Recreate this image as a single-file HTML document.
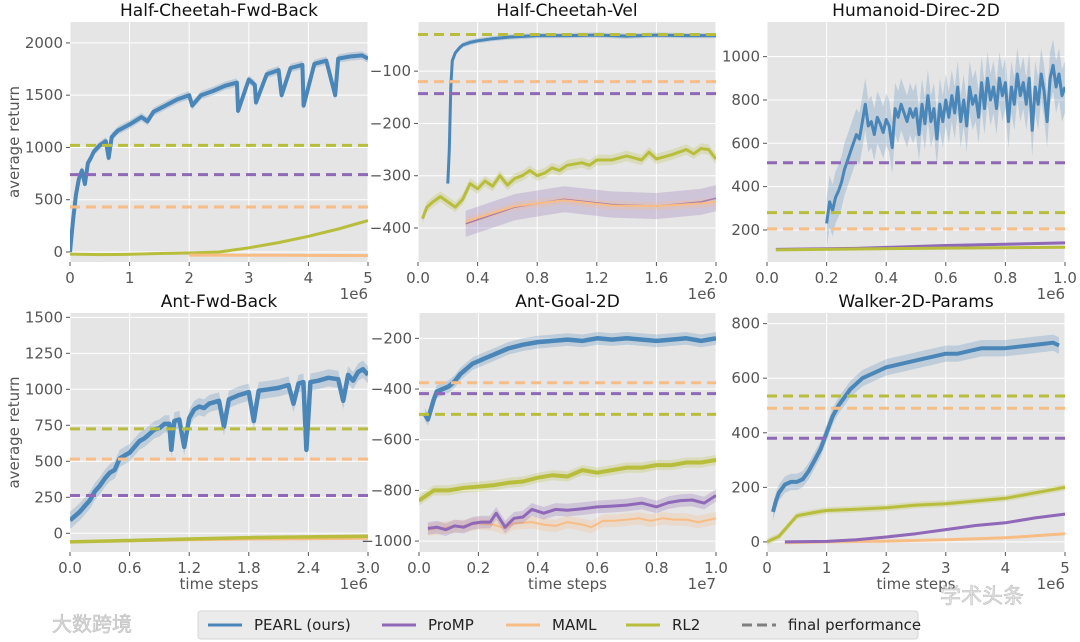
<!DOCTYPE html>
<html><head><meta charset="utf-8">
<style>
html,body{margin:0;padding:0;background:#fff;}
svg{display:block;font-family:"DejaVu Sans","Liberation Sans",sans-serif;}
</style></head>
<body>
<svg id="chart" width="1080" height="642" viewBox="0 0 1080 642" xmlns="http://www.w3.org/2000/svg"></svg>
<script>
// ---------- Panel 1: Half-Cheetah-Fwd-Back ----------
const p1PearlX = [0,0.05,0.1,0.15,0.2,0.25,0.3,0.35,0.4,0.5,0.6,0.65,0.7,0.8,1.0,1.2,1.3,1.4,1.6,1.8,2.0,2.05,2.2,2.4,2.6,2.8,2.82,3.0,3.1,3.12,3.3,3.5,3.55,3.7,3.9,3.92,4.1,4.3,4.45,4.5,4.7,4.9,5.0];
const p1PearlY = [0,300,550,700,780,650,850,900,960,1020,1060,900,1100,1160,1220,1290,1250,1340,1400,1460,1500,1400,1500,1540,1590,1620,1350,1650,1600,1430,1700,1740,1500,1760,1790,1400,1800,1830,1500,1850,1870,1880,1850];
const p1Rl2X = [0,0.5,1,1.5,2,2.5,3,3.5,4,4.5,5];
const p1Rl2Y = [-20,-25,-22,-15,-10,0,40,90,150,220,300];
const p1MamlX = [2,3.5,5];
const p1MamlY = [-30,-32,-35];
const p1Final = [1020,740,430]; // RL2, ProMP, MAML

// ---------- Panel 2: Half-Cheetah-Vel ----------
const p2PearlX = [0.2,0.21,0.22,0.23,0.25,0.28,0.3,0.35,0.4,0.5,0.6,0.8,1.0,1.2,1.4,1.6,1.8,2.0];
const p2PearlY = [-315,-250,-130,-80,-65,-55,-50,-45,-42,-38,-35,-32,-32,-31,-33,-31,-32,-32];
const p2Rl2X = [0.03,0.06,0.1,0.15,0.2,0.25,0.3,0.35,0.4,0.45,0.5,0.55,0.6,0.65,0.7,0.75,0.8,0.85,0.9,0.95,1.0,1.1,1.15,1.2,1.3,1.4,1.5,1.55,1.6,1.7,1.75,1.8,1.85,1.9,1.95,2.0];
const p2Rl2Y = [-382,-360,-350,-340,-350,-360,-345,-315,-325,-310,-320,-300,-318,-305,-300,-290,-300,-295,-285,-290,-280,-275,-280,-270,-270,-262,-270,-255,-268,-260,-255,-250,-258,-248,-250,-268];
const p2PrompX = [0.32,0.65,0.98,1.3,1.6,1.9,2.0];
const p2PrompY = [-392,-360,-345,-355,-358,-350,-343];
const p2MamlX = [0.32,0.65,0.98,1.3,1.6,1.9,2.0];
const p2MamlY = [-388,-358,-347,-357,-358,-353,-350];
const p2Final = [-30,-143,-120];

// ---------- Panel 3: Humanoid-Direc-2D ----------
const p3PearlX = [0.2,0.21,0.22,0.23,0.24,0.25,0.26,0.27,0.28,0.29,0.3,0.31,0.32,0.33,0.34,0.35,0.36,0.37,0.38,0.39,0.4,0.41,0.42,0.43,0.44,0.45,0.46,0.47,0.48,0.49,0.5,0.51,0.52,0.53,0.54,0.55,0.56,0.57,0.58,0.59,0.6,0.61,0.62,0.63,0.64,0.65,0.66,0.67,0.68,0.69,0.7,0.71,0.72,0.73,0.74,0.75,0.76,0.77,0.78,0.79,0.8,0.81,0.82,0.83,0.84,0.85,0.86,0.87,0.88,0.89,0.9,0.91,0.92,0.93,0.94,0.95,0.96,0.97,0.98,0.99,1.0];
const p3PearlY = [230,330,290,350,380,420,480,520,560,600,640,620,700,780,680,700,640,720,690,650,710,680,580,760,720,780,740,700,760,720,760,640,780,690,820,700,760,620,780,700,800,720,820,740,860,700,800,680,860,780,820,720,880,760,900,800,860,760,900,820,880,700,860,780,920,820,880,780,900,660,860,780,920,840,700,900,960,860,920,820,860];
const p3PrompX = [0.03,0.3,0.6,1.0];
const p3PrompY = [110,115,128,140];
const p3Rl2X = [0.03,0.3,0.6,1.0];
const p3Rl2Y = [108,112,116,120];
const p3Final = [280,510,205];

// ---------- Panel 4: Ant-Fwd-Back ----------
const p4PearlX = [0,0.05,0.1,0.15,0.2,0.25,0.3,0.35,0.4,0.45,0.5,0.55,0.6,0.65,0.7,0.75,0.8,0.85,0.9,0.95,1.0,1.02,1.05,1.1,1.15,1.2,1.25,1.3,1.35,1.4,1.5,1.55,1.6,1.7,1.8,1.85,1.9,2.0,2.1,2.2,2.25,2.3,2.35,2.38,2.42,2.5,2.6,2.7,2.75,2.8,2.85,2.9,2.95,3.0];
const p4PearlY = [90,120,150,190,230,290,330,380,420,440,520,540,560,600,640,660,690,720,730,760,760,580,780,790,600,800,860,880,870,900,920,740,930,960,980,780,990,1000,1010,1030,900,1040,1050,580,1050,1060,1080,1070,920,1100,1060,1120,1140,1100];
const p4Rl2X = [0,0.6,1.2,1.8,2.4,3.0];
const p4Rl2Y = [-60,-50,-40,-30,-25,-20];
const p4MamlX = [0,0.6,1.2,1.8,2.4,3.0];
const p4MamlY = [-60,-52,-45,-40,-38,-35];
const p4Final = [725,262,515];

// ---------- Panel 5: Ant-Goal-2D ----------
const p5PearlX = [0.02,0.03,0.04,0.05,0.06,0.08,0.1,0.12,0.14,0.16,0.18,0.2,0.22,0.25,0.28,0.3,0.35,0.4,0.45,0.5,0.55,0.6,0.65,0.7,0.75,0.8,0.85,0.9,0.95,1.0];
const p5PearlY = [-500,-520,-480,-440,-410,-400,-390,-370,-340,-320,-300,-290,-280,-265,-250,-240,-225,-215,-210,-205,-210,-200,-205,-200,-205,-210,-205,-200,-210,-200];
const p5Rl2X = [0,0.05,0.1,0.15,0.2,0.25,0.3,0.35,0.4,0.45,0.5,0.55,0.6,0.65,0.7,0.75,0.8,0.85,0.9,0.95,1.0];
const p5Rl2Y = [-840,-800,-800,-790,-785,-780,-770,-765,-750,-740,-745,-720,-730,-720,-710,-710,-700,-700,-690,-690,-680];
const p5PrompX = [0.03,0.06,0.09,0.12,0.15,0.18,0.21,0.24,0.26,0.29,0.32,0.35,0.38,0.42,0.46,0.5,0.55,0.6,0.65,0.7,0.75,0.8,0.84,0.88,0.92,0.96,1.0];
const p5PrompY = [-950,-945,-955,-940,-945,-930,-925,-925,-890,-945,-910,-905,-875,-890,-875,-878,-872,-865,-862,-858,-850,-865,-848,-840,-838,-850,-820];
const p5MamlX = [0.03,0.06,0.1,0.15,0.2,0.25,0.29,0.32,0.38,0.42,0.46,0.5,0.55,0.58,0.62,0.66,0.7,0.74,0.78,0.82,0.86,0.9,0.94,1.0];
const p5MamlY = [-955,-950,-945,-940,-930,-935,-950,-930,-925,-935,-940,-925,-935,-945,-920,-920,-915,-910,-920,-910,-915,-915,-925,-910];
const p5Final = [-500,-418,-375];

// ---------- Panel 6: Walker-2D-Params ----------
const p6PearlX = [0.1,0.15,0.2,0.3,0.4,0.5,0.6,0.7,0.8,0.9,1.0,1.1,1.2,1.3,1.4,1.5,1.6,1.8,2.0,2.2,2.4,2.6,2.8,3.0,3.2,3.4,3.6,3.8,4.0,4.2,4.4,4.6,4.8,4.9];
const p6PearlY = [110,150,180,210,220,220,230,260,300,340,400,460,500,530,560,580,600,620,640,650,660,670,680,690,690,700,710,710,710,715,720,725,730,720];
const p6Rl2X = [0,0.2,0.4,0.5,0.6,0.8,1.0,1.5,2.0,2.5,3.0,3.5,4.0,4.5,5.0];
const p6Rl2Y = [0,20,70,95,100,108,115,120,125,135,140,150,160,180,200];
const p6PrompX = [0.3,1.0,1.5,2.0,2.5,3.0,3.5,4.0,4.5,5.0];
const p6PrompY = [0,2,8,18,30,45,60,70,88,102];
const p6MamlX = [0.3,1,2,3,4,5];
const p6MamlY = [-3,0,3,8,15,30];
const p6Final = [535,380,490];

const C = {pearl:'#4a86b8', promp:'#8f68b8', maml:'#f8bd85', rl2:'#b8be3c', grid:'#ffffff', bg:'#e5e5e5', tick:'#555'};
const NS = 'http://www.w3.org/2000/svg';
const svg = document.getElementById('chart');
function mk(tag, attrs, parent){ const e=document.createElementNS(NS,tag); for(const k in attrs) e.setAttribute(k,attrs[k]); (parent||svg).appendChild(e); return e; }
function fmt(v,d){ const s=v.toFixed(d); return s.replace('-','\u2212'); }

const panels = [
 {name:'half-cheetah-fwd-back', title:'Half-Cheetah-Fwd-Back', L:70,R:368,T:22,B:262, xmin:0,xmax:5, ymin:-96,ymax:2200, xt:[0,1,2,3,4,5], xd:0, yt:[0,500,1000,1500,2000], exp:'1e6', xlabel:false, ylabel:true,
  series:[{k:'rl2',x:p1Rl2X,y:p1Rl2Y,w:3,band:12},{k:'maml',x:p1MamlX,y:p1MamlY,w:3,band:6},{k:'pearl',x:p1PearlX,y:p1PearlY,w:4,band:40}], fin:p1Final},
 {name:'half-cheetah-vel', title:'Half-Cheetah-Vel', L:418,R:716,T:22,B:262, xmin:0,xmax:2, ymin:-465,ymax:-6, xt:[0,0.4,0.8,1.2,1.6,2.0], xd:1, yt:[-400,-300,-200,-100], exp:'1e6', xlabel:false, ylabel:false,
  series:[{k:'rl2',x:p2Rl2X,y:p2Rl2Y,w:3,band:10},{k:'promp',x:p2PrompX,y:p2PrompY,w:1.5,band:25},{k:'maml',x:p2MamlX,y:p2MamlY,w:2,band:8},{k:'pearl',x:p2PearlX,y:p2PearlY,w:3,band:5}], fin:p2Final},
 {name:'humanoid-direc-2d', title:'Humanoid-Direc-2D', L:767,R:1065,T:22,B:262, xmin:0,xmax:1, ymin:52,ymax:1160, xt:[0,0.2,0.4,0.6,0.8,1.0], xd:1, yt:[200,400,600,800,1000], exp:'1e6', xlabel:false, ylabel:false,
  series:[{k:'promp',x:p3PrompX,y:p3PrompY,w:3,band:5},{k:'rl2',x:p3Rl2X,y:p3Rl2Y,w:3,band:4},{k:'pearl',x:p3PearlX,y:p3PearlY,w:3,band:120}], fin:p3Final},
 {name:'ant-fwd-back', title:'Ant-Fwd-Back', L:70,R:368,T:313,B:552, xmin:0,xmax:3, ymin:-130,ymax:1530, xt:[0,0.6,1.2,1.8,2.4,3.0], xd:1, yt:[0,250,500,750,1000,1250,1500], exp:'1e6', xlabel:true, ylabel:true,
  series:[{k:'maml',x:p4MamlX,y:p4MamlY,w:3,band:5},{k:'rl2',x:p4Rl2X,y:p4Rl2Y,w:3.5,band:8},{k:'pearl',x:p4PearlX,y:p4PearlY,w:4.5,band:60}], fin:p4Final},
 {name:'ant-goal-2d', title:'Ant-Goal-2D', L:419,R:716,T:313,B:552, xmin:0,xmax:1, ymin:-1043,ymax:-100, xt:[0,0.2,0.4,0.6,0.8,1.0], xd:1, yt:[-1000,-800,-600,-400,-200], exp:'1e7', xlabel:true, ylabel:false,
  series:[{k:'rl2',x:p5Rl2X,y:p5Rl2Y,w:4,band:20},{k:'maml',x:p5MamlX,y:p5MamlY,w:2,band:25},{k:'promp',x:p5PrompX,y:p5PrompY,w:3,band:25},{k:'pearl',x:p5PearlX,y:p5PearlY,w:4.5,band:25}], fin:p5Final},
 {name:'walker-2d-params', title:'Walker-2D-Params', L:767,R:1065,T:313,B:552, xmin:0,xmax:5, ymin:-37,ymax:839, xt:[0,1,2,3,4,5], xd:0, yt:[0,200,400,600,800], exp:'1e6', xlabel:true, ylabel:false,
  series:[{k:'maml',x:p6MamlX,y:p6MamlY,w:3,band:4},{k:'promp',x:p6PrompX,y:p6PrompY,w:3,band:5},{k:'rl2',x:p6Rl2X,y:p6Rl2Y,w:3,band:12},{k:'pearl',x:p6PearlX,y:p6PearlY,w:4,band:30}], fin:p6Final}
];
const finKeys = ['rl2','promp','maml'];

panels.forEach(p=>{
  const g = mk('g',{});
  
  
  const sx = v => p.L + (v-p.xmin)/(p.xmax-p.xmin)*(p.R-p.L);
  const sy = v => p.B - (v-p.ymin)/(p.ymax-p.ymin)*(p.B-p.T);
  const bg = mk('rect',{x:p.L,y:p.T,width:p.R-p.L,height:p.B-p.T,fill:C.bg},g);
  
  
  const clipId='clip-'+p.name;
  const cp = mk('clipPath',{id:clipId},g); mk('rect',{x:p.L,y:p.T,width:p.R-p.L,height:p.B-p.T},cp);
  p.xt.forEach(v=>{
    mk('line',{x1:sx(v),x2:sx(v),y1:p.T,y2:p.B,stroke:C.grid,'stroke-width':1},g);
    mk('line',{x1:sx(v),x2:sx(v),y1:p.B,y2:p.B+4,stroke:C.tick,'stroke-width':1},g);
    const t = mk('text',{x:sx(v),y:p.B+21,'text-anchor':'middle','font-size':15,fill:C.tick},g);
    t.textContent = fmt(v,p.xd);
    
    
  });
  p.yt.forEach(v=>{
    mk('line',{x1:p.L,x2:p.R,y1:sy(v),y2:sy(v),stroke:C.grid,'stroke-width':1},g);
    mk('line',{x1:p.L-4,x2:p.L,y1:sy(v),y2:sy(v),stroke:C.tick,'stroke-width':1},g);
    const t = mk('text',{x:p.L-7,y:sy(v)+5,'text-anchor':'end','font-size':15,fill:C.tick},g);
    t.textContent = fmt(v,0);
    
    
  });
  const cg = mk('g',{'clip-path':'url(#'+clipId+')'},g);
  p.series.forEach(s=>{
    let up='', dn='';
    s.x.forEach((xv,i)=>{ up += (i?'L':'M')+sx(xv).toFixed(1)+','+sy(s.y[i]+s.band).toFixed(1); });
    for(let i=s.x.length-1;i>=0;i--){ dn += 'L'+sx(s.x[i]).toFixed(1)+','+sy(s.y[i]-s.band).toFixed(1); }
    const band = mk('path',{d:up+dn+'Z',fill:C[s.k],'fill-opacity':0.25,stroke:'none'},cg);
    
    
    let d='';
    s.x.forEach((xv,i)=>{ d += (i?'L':'M')+sx(xv).toFixed(1)+','+sy(s.y[i]).toFixed(1); });
    const ln = mk('path',{d:d,fill:'none',stroke:C[s.k],'stroke-width':s.w,'stroke-linejoin':'round'},cg);
    
    
  });
  p.fin.forEach((v,i)=>{
    const l = mk('line',{x1:p.L,x2:p.R,y1:sy(v),y2:sy(v),stroke:C[finKeys[i]],'stroke-width':3,'stroke-dasharray':'10,6'},cg);
    
    
  });
  const tt = mk('text',{x:(p.L+p.R)/2,y:p.T-6,'text-anchor':'middle','font-size':17,fill:'#111'},g);
  tt.textContent = p.title;
  
  
  const ex = mk('text',{x:p.R,y:p.B+37,'text-anchor':'end','font-size':15,fill:C.tick},g);
  ex.textContent = p.exp;
  
  
  if(p.xlabel){
    const xl = mk('text',{x:(p.L+p.R)/2,y:p.B+37,'text-anchor':'middle','font-size':15,fill:C.tick},g);
    xl.textContent = 'time steps';
    
    
  }
  if(p.ylabel){
    const cy=(p.T+p.B)/2;
    const yl = mk('text',{x:19,y:cy,'text-anchor':'middle','font-size':15,fill:C.tick,transform:'rotate(-90 19 '+cy+')'},g);
    yl.textContent = 'average return';
    
    
  }
});

// Legend
const lg = mk('g',{});


mk('rect',{x:198,y:611,width:720,height:28,rx:3,fill:'#ebebeb',stroke:'#d5d5d5'},lg);
const legLabels = ['PEARL (ours)','ProMP','MAML','RL2','final performance'];
const legKeys = ['pearl','promp','maml','rl2','final'];
const legX = [208,382,506,626,742];
legLabels.forEach((lab,i)=>{
  const e = mk('g',{},lg);
  
  
  const col = legKeys[i]==='final' ? '#808080' : C[legKeys[i]];
  mk('line',{x1:legX[i],x2:legX[i]+34,y1:625,y2:625,stroke:col,'stroke-width':3,'stroke-dasharray':legKeys[i]==='final'?'10,5':'none'},e);
  const t = mk('text',{x:legX[i]+46,y:630,'font-size':15,fill:'#222'},e);
  t.textContent = lab;
});

// Watermarks
const w1 = mk('text',{x:52,y:631,'font-size':20,fill:'#d8d8d8',stroke:'#bbb','stroke-width':0.5,'font-family':'"Noto Sans CJK SC",sans-serif'});
w1.textContent = '大数跨境';


const w2 = mk('text',{x:940,y:603,'font-size':21,fill:'#e0e0e0',stroke:'#bbb','stroke-width':0.5,'font-family':'"Noto Sans CJK SC",sans-serif'});
w2.textContent = '学术头条';


</script>
</body></html>
